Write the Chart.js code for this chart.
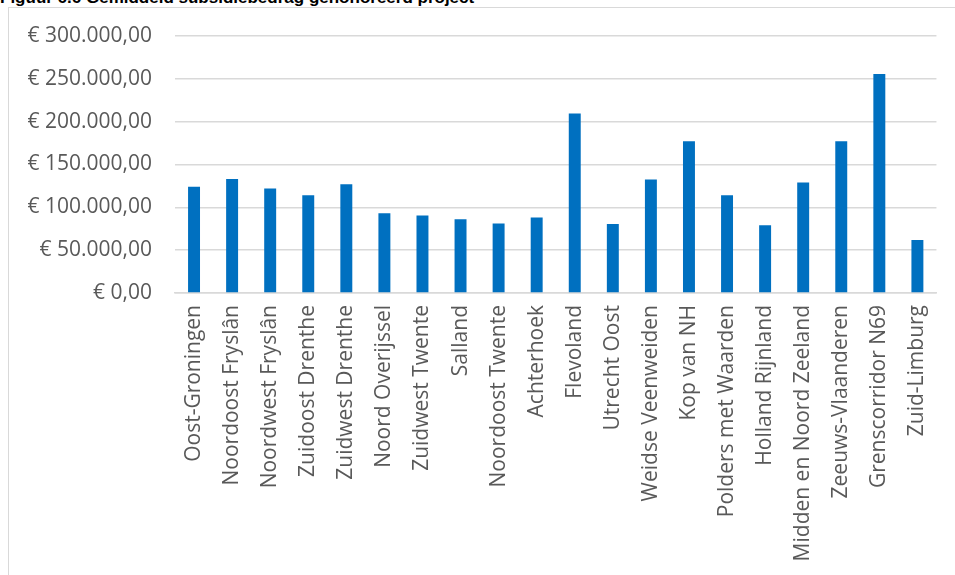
<!DOCTYPE html>
<html>
<head>
<meta charset="utf-8">
<script src="https://cdn.jsdelivr.net/npm/chart.js@4"></script>
<style>
    body { margin: 0; background: #fff; overflow: hidden; }
    #title {
        position: absolute; left: 0; top: -11px;
        font: bold 17px "Liberation Sans", Arial, sans-serif;
        line-height: 17px; color: #000; white-space: nowrap;
    }
    #frame {
        position: absolute; left: 8px; top: 7px; right: 0; bottom: 0;
        border-left: 1px solid #d9d9d9; border-top: 1px solid #d9d9d9;
    }
    #wrap { position: absolute; left: 0; top: 0; width: 955px; height: 575px; }
</style>
</head>
<body>
<div id="title">Figuur 6.6 Gemiddeld subsidiebedrag gehonoreerd project</div>
<div id="frame"></div>
<div id="wrap"><canvas id="myChart"></canvas></div>
<script>
const regions = [
    'Oost-Groningen', 'Noordoost Fryslân', 'Noordwest Fryslân', 'Zuidoost Drenthe',
    'Zuidwest Drenthe', 'Noord Overijssel', 'Zuidwest Twente', 'Salland',
    'Noordoost Twente', 'Achterhoek', 'Flevoland', 'Utrecht Oost',
    'Weidse Veenweiden', 'Kop van NH', 'Polders met Waarden', 'Holland Rijnland',
    'Midden en Noord Zeeland', 'Zeeuws-Vlaanderen', 'Grenscorridor N69', 'Zuid-Limburg'
];
const subsidie = [
    124000, 133000, 122000, 114000,
    127000, 93000, 90500, 86000,
    81000, 88000, 209500, 80500,
    132500, 177000, 114000, 79000,
    129000, 177000, 255500, 62000
];
const yMax = 300000;
const yStep = 50000;

// € 300.000,00 style
function euro(v) {
    let parts = v.toFixed(2).split('.');
    let whole = parts[0].replace(/\B(?=(\d{3})+(?!\d))/g, '.');
    return '€ ' + whole + ',' + parts[1];
}

const ctx = document.getElementById('myChart').getContext('2d');
new Chart(ctx, {
    type: 'bar',
    data: {
        labels: regions,
        datasets: [{
            data: subsidie,
            backgroundColor: '#0070c0',
            borderWidth: 0,
            categoryPercentage: 1,
            barPercentage: 0.314
        }]
    },
    options: {
        responsive: true,
        maintainAspectRatio: false,
        animation: false,
        layout: { padding: { top: 36, right: 16, bottom: 0, left: 0 } },
        plugins: { legend: { display: false }, tooltip: { enabled: false } },
        scales: {
            x: {
                grid: { display: false, drawTicks: false },
                border: { display: true, color: '#d9d9d9', width: 1.5 },
                ticks: {
                    color: '#595959',
                    font: { family: 'Open Sans', size: 21 },
                    maxRotation: 90, minRotation: 90,
                    padding: 12,
                    autoSkip: false
                },
                afterFit: scale => { scale.height = 282; }
            },
            y: {
                min: 0, max: yMax,
                grid: { color: '#d9d9d9', lineWidth: 1.5, drawTicks: false },
                border: { display: false },
                ticks: {
                    stepSize: yStep,
                    color: '#595959',
                    font: { family: 'Open Sans', size: 21 },
                    padding: 23,
                    callback: v => euro(v)
                },
                afterFit: scale => { scale.width = 175; }
            }
        }
    }
});
</script>
</body>
</html>
